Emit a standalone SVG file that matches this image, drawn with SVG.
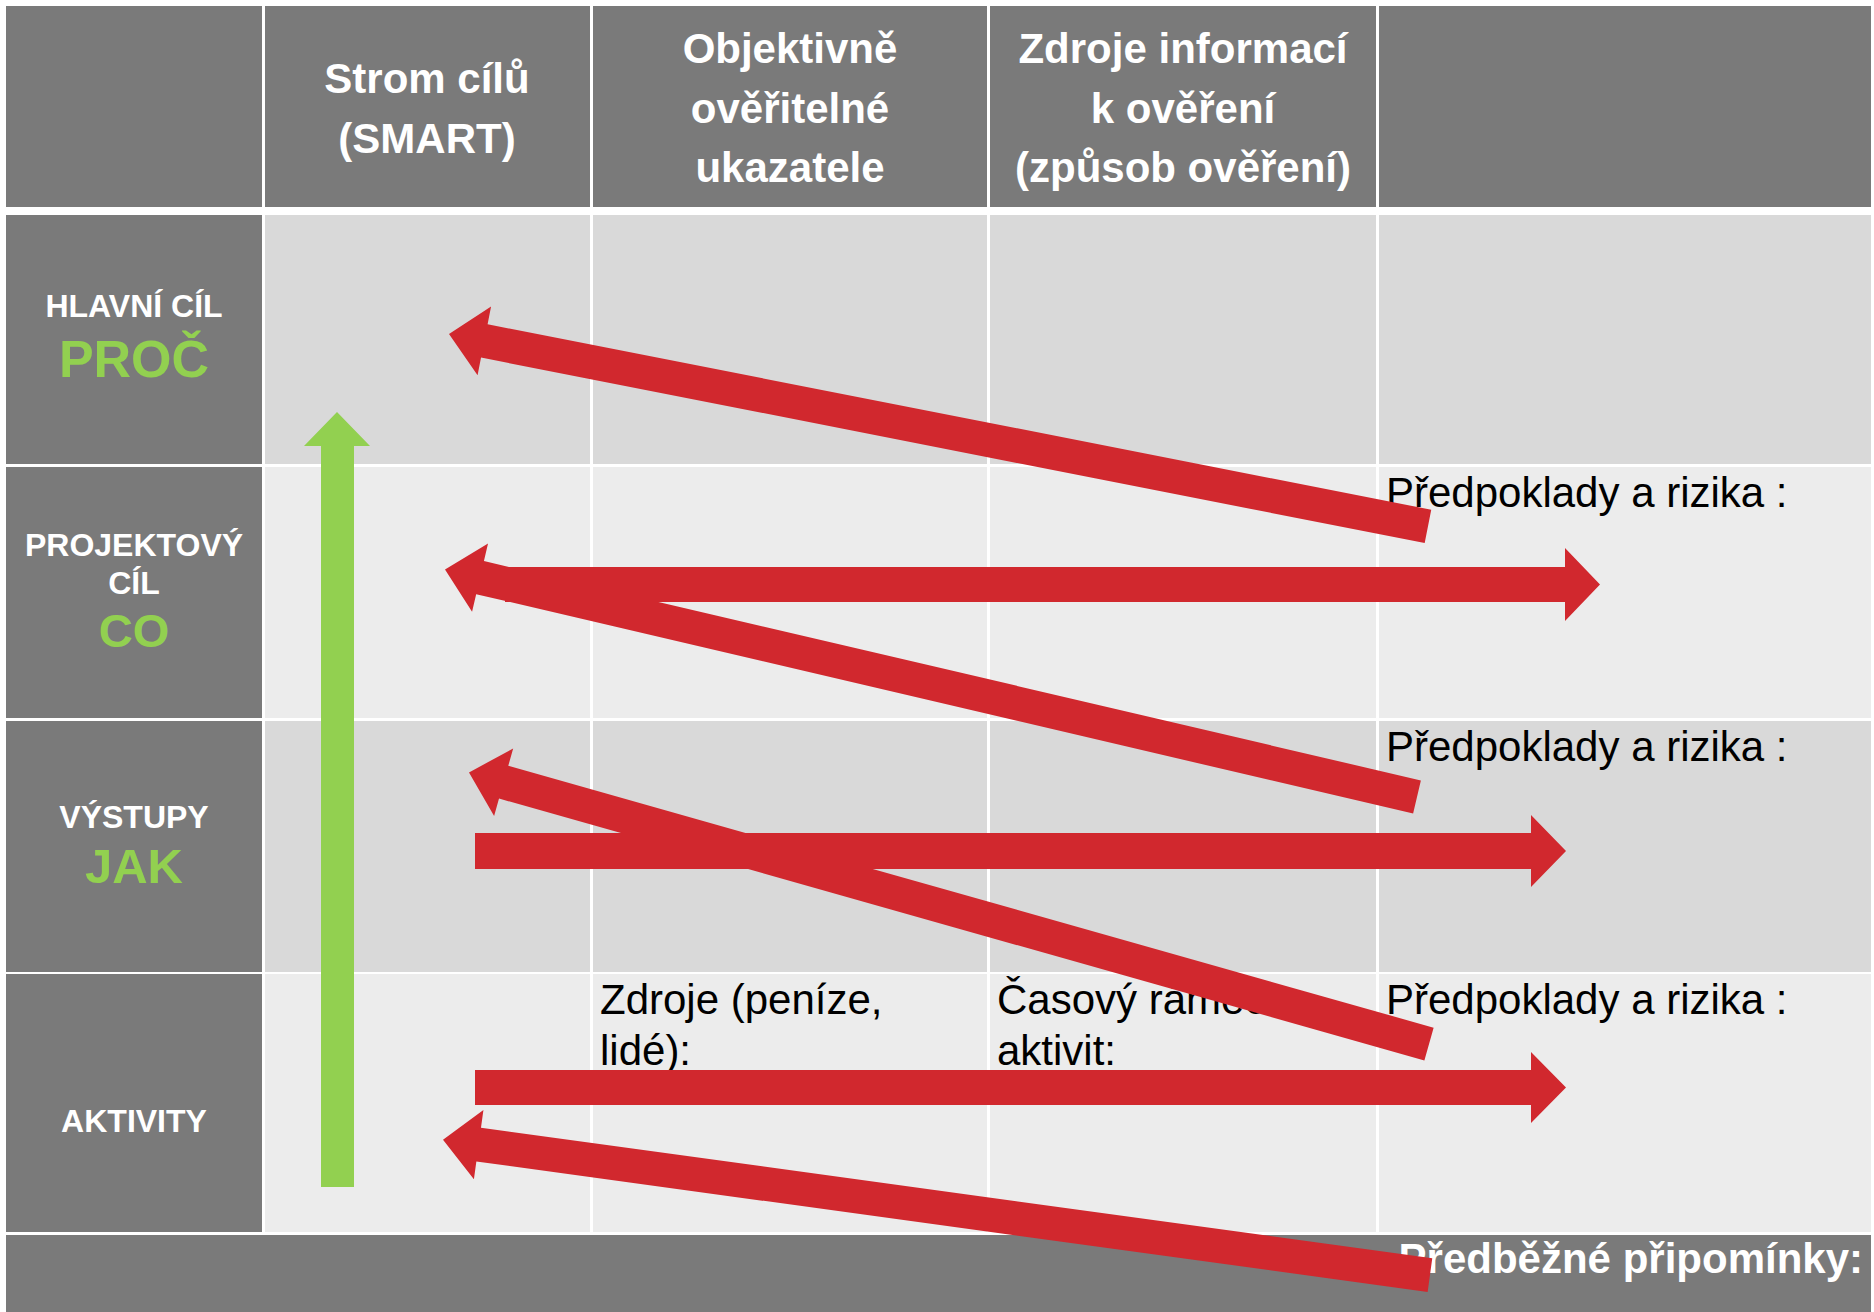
<svg xmlns="http://www.w3.org/2000/svg" width="1874" height="1312" viewBox="0 0 1874 1312">
<style>
.dk{fill:#7a7a7a}
.l1{fill:#d9d9d9}
.l2{fill:#ececec}
.hd{font-family:"Liberation Sans",Arial,sans-serif;font-weight:bold;font-size:42px;fill:#ffffff;text-anchor:middle}
.lb{font-family:"Liberation Sans",Arial,sans-serif;font-weight:bold;font-size:32px;fill:#ffffff;text-anchor:middle}
.gr{font-family:"Liberation Sans",Arial,sans-serif;font-weight:bold;fill:#92d050;text-anchor:middle}
.tx{font-family:"Liberation Sans",Arial,sans-serif;font-size:42px;fill:#000000}
.ar{fill:#d1282e}
.ga{fill:#92d050}
</style>
<rect x="0" y="0" width="1874" height="1312" fill="#ffffff"/>
<g id="header">
<rect class="dk" x="6" y="6" width="256" height="201"/>
<g id="h-strom"><rect class="dk" x="265" y="6" width="325" height="201"/>
<text class="hd" x="427" y="93">Strom cílů</text><text class="hd" x="427" y="153">(SMART)</text></g>
<g id="h-ukazatele"><rect class="dk" x="593" y="6" width="394" height="201"/>
<text class="hd" x="790" y="63">Objektivně</text><text class="hd" x="790" y="123">ověřitelné</text><text class="hd" x="790" y="182">ukazatele</text></g>
<g id="h-zdroje"><rect class="dk" x="990" y="6" width="386" height="201"/>
<text class="hd" x="1183" y="63">Zdroje informací</text><text class="hd" x="1183" y="123">k ověření</text><text class="hd" x="1183" y="182">(způsob ověření)</text></g>
<rect class="dk" x="1379" y="6" width="492" height="201"/>
</g>
<g id="row-hlavni">
<rect class="dk" x="6" y="215" width="256" height="249"/>
<rect class="l1" x="265" y="215" width="325" height="249"/>
<rect class="l1" x="593" y="215" width="394" height="249"/>
<rect class="l1" x="990" y="215" width="386" height="249"/>
<rect class="l1" x="1379" y="215" width="492" height="249"/>
<text class="lb" x="134" y="317">HLAVNÍ CÍL</text>
<text class="gr" x="134" y="377" font-size="52">PROČ</text>
</g>
<g id="row-projektovy">
<rect class="dk" x="6" y="467" width="256" height="251"/>
<rect class="l2" x="265" y="467" width="325" height="251"/>
<rect class="l2" x="593" y="467" width="394" height="251"/>
<rect class="l2" x="990" y="467" width="386" height="251"/>
<rect class="l2" x="1379" y="467" width="492" height="251"/>
<text class="lb" x="134" y="556">PROJEKTOVÝ</text>
<text class="lb" x="134" y="594">CÍL</text>
<text class="gr" x="134" y="647" font-size="47">CO</text>
<text class="tx" x="1386" y="507">Předpoklady a rizika :</text>
</g>
<g id="row-vystupy">
<rect class="dk" x="6" y="721" width="256" height="251"/>
<rect class="l1" x="265" y="721" width="325" height="251"/>
<rect class="l1" x="593" y="721" width="394" height="251"/>
<rect class="l1" x="990" y="721" width="386" height="251"/>
<rect class="l1" x="1379" y="721" width="492" height="251"/>
<text class="lb" x="134" y="828">VÝSTUPY</text>
<text class="gr" x="134" y="883" font-size="49">JAK</text>
<text class="tx" x="1386" y="761">Předpoklady a rizika :</text>
</g>
<g id="row-aktivity">
<rect class="dk" x="6" y="974" width="256" height="258"/>
<rect class="l2" x="265" y="974" width="325" height="258"/>
<rect class="l2" x="593" y="974" width="394" height="258"/>
<rect class="l2" x="990" y="974" width="386" height="258"/>
<rect class="l2" x="1379" y="974" width="492" height="258"/>
<text class="lb" x="134" y="1132">AKTIVITY</text>
<text class="tx" x="600" y="1014">Zdroje (peníze,</text>
<text class="tx" x="600" y="1065">lidé):</text>
<text class="tx" x="997" y="1014">Časový rámec</text>
<text class="tx" x="997" y="1065">aktivit:</text>
<text class="tx" x="1386" y="1014">Předpoklady a rizika :</text>
</g>
<g id="footer">
<rect class="dk" x="6" y="1235" width="1865" height="77"/>
<text class="hd" x="1863" y="1273" style="text-anchor:end">Předběžné připomínky:</text>
</g>
<g id="connectors">
<polygon class="ga" points="321,1187 321,446 304,446 337,412 370,446 354,446 354,1187"/>
<polygon class="ar" transform="translate(449,334) rotate(191.12)" points="-997.7,-17 -36,-17 -36,-35 0,0 -36,35 -36,17 -997.7,17"/>
<polygon class="ar" transform="translate(445,569.4) rotate(193.18)" points="-998.3,-17 -36,-17 -36,-35 0,0 -36,35 -36,17 -998.3,17"/>
<polygon class="ar" points="505,567 1565,567 1565,548 1600,584.5 1565,621 1565,602 505,602"/>
<polygon class="ar" transform="translate(469,772.4) rotate(195.80)" points="-997.7,-17 -36,-17 -36,-35 0,0 -36,35 -36,17 -997.7,17"/>
<polygon class="ar" points="475,833 1531,833 1531,815 1566,851 1531,887 1531,869 475,869"/>
<polygon class="ar" points="475,1070 1531,1070 1531,1052 1566,1087.5 1531,1123 1531,1105 475,1105"/>
<polygon class="ar" transform="translate(443,1139.7) rotate(187.81)" points="-996.2,-17 -36,-17 -36,-35 0,0 -36,35 -36,17 -996.2,17"/>
</g>
</svg>
